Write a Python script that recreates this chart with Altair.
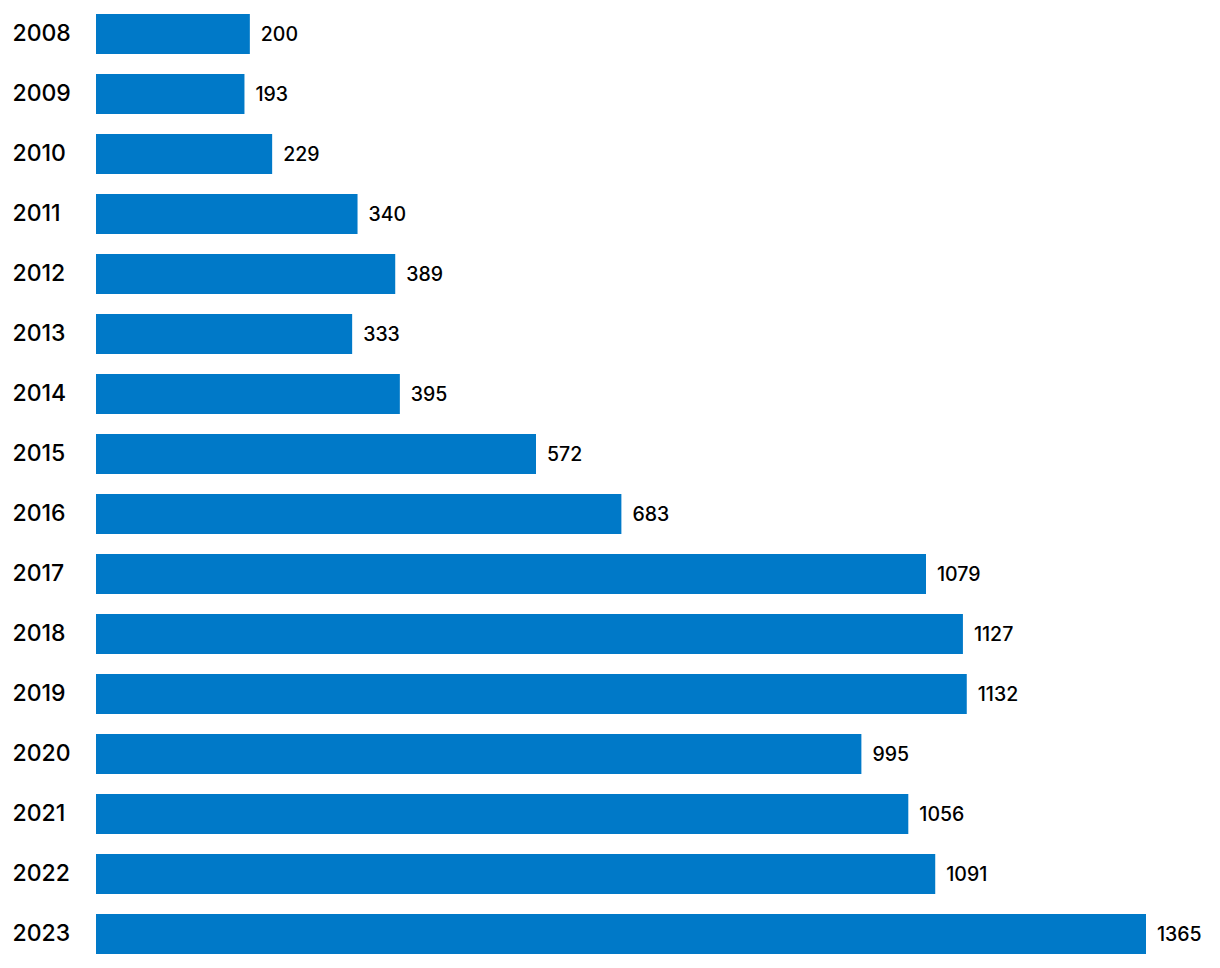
import altair as alt
import pandas as pd

years = [str(y) for y in range(2008, 2024)]
values = [200, 193, 229, 340, 389, 333, 395, 572, 683, 1079, 1127, 1132, 995, 1056, 1091, 1365]

df = pd.DataFrame({"year": years, "value": values})

base = alt.Chart(df).encode(
    y=alt.Y(
        "year:N",
        sort=years,
        title=None,
        scale=alt.Scale(paddingInner=1/3, paddingOuter=0.1),
        axis=alt.Axis(
            ticks=False, domain=False, labelAlign="left", labelPadding=84,
            labelFont="Inter", labelFontSize=23, labelFontWeight=500,
            labelColor="#000000",
        ),
    ),
    x=alt.X("value:Q", title=None, scale=alt.Scale(domain=[0, 1365], nice=False),
            axis=None),
)

bars = base.mark_bar(color="#0079C8")
labels = base.mark_text(align="left", baseline="middle", dx=11, dy=1, font="Inter",
                        fontSize=19.5, fontWeight=500, color="#000000").encode(text="value:Q")

chart = (bars + labels).properties(
    width=1050, height=952,
    padding={"left": 4, "top": 0, "right": 5, "bottom": 0},
).configure_view(stroke=None)

chart.save("out.html", embed_options={"renderer": "svg", "actions": False})
